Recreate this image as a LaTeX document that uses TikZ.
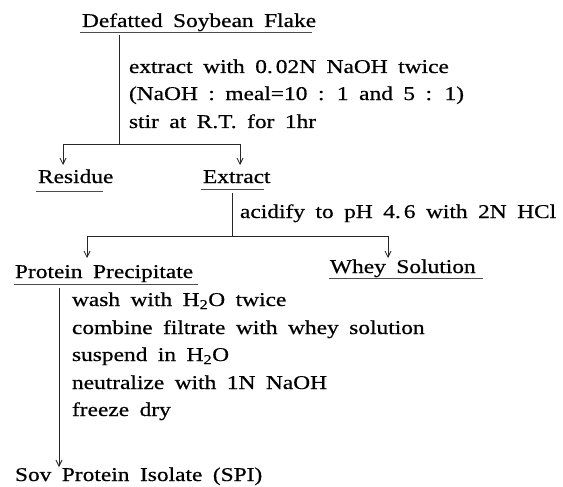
\documentclass[tikz,border=0pt]{standalone}
\usepackage{fontspec}
\newfontfamily\reffont[FakeStretch=1.2,FakeBold=0.6]{Liberation Serif}
\usetikzlibrary{arrows.meta}
\begin{document}
\begin{tikzpicture}[x=1pt,y=-1pt,
  lbl/.style={anchor=base west,inner sep=0pt,outer sep=0pt,
    font={\reffont\fontsize{19.5}{22}\selectfont\spaceskip=10.5pt\relax}},
  ln/.style={line width=0.8pt,black!85},
  ul/.style={line width=0.6pt,black!70},
  arr/.style={ln,-{Straight Barb[length=6pt,width=6pt,line width=0.8pt]}}]
\useasboundingbox (0,0) rectangle (563,487);
% labels
\node[lbl] (title) at (82,27) {Defatted Soybean Flake};
\node[lbl] (s1) at (129,73) {extract with 0.\kern3pt 02N NaOH twice};
\node[lbl] (s2) at (129,100) {(NaOH : meal=10 : 1 and 5 : 1)};
\node[lbl] (s3) at (129,128) {stir at R.T. for 1hr};
\node[lbl] (res) at (38,183) {Residue};
\node[lbl] (ext) at (203,183) {Extract};
\node[lbl] (acid) at (240,218) {acidify to pH 4.\kern3pt 6 with 2N HCl};
\node[lbl] (ppt) at (15,278) {Protein Precipitate};
\node[lbl] (whey) at (330,273) {Whey Solution};
\node[lbl] (t1) at (72,306) {wash with H\textsubscript{2}O twice};
\node[lbl] (t2) at (72,334) {combine filtrate with whey solution};
\node[lbl] (t3) at (72,361) {suspend in H\textsubscript{2}O};
\node[lbl] (t4) at (72,389) {neutralize with 1N NaOH};
\node[lbl] (t5) at (72,416) {freeze dry};
\node[lbl] (spi) at (15,481) {Sov Protein Isolate (SPI)};
% underlines
\draw[ul] (80,32) -- (312,32);
\draw[ul] (36,191) -- (103,191);
\draw[ul] (201,189) -- (264,189);
\draw[ul] (14,284) -- (198,284);
\draw[ul] (329,278) -- (483,278);
% junction coordinates
\coordinate (a0) at (119,35);
\coordinate (a1) at (119,144);
\coordinate (h1l) at (63,144);
\coordinate (h1r) at (240,144);
\coordinate (b0) at (232,193);
\coordinate (b1) at (232,236);
\coordinate (h2l) at (87,236);
\coordinate (h2r) at (388,236);
\coordinate (c0) at (59,288);
% connectors
\draw[ln] (a0) -- (a1);
\draw[ln] (h1l) -- (h1r);
\draw[arr] (h1l) -- (h1l |- 0,165);
\draw[arr] (h1r) -- (h1r |- 0,165);
\draw[ln] (b0) -- (b1);
\draw[ln] (h2l) -- (h2r);
\draw[arr] (h2l) -- (h2l |- 0,258);
\draw[arr] (h2r) -- (h2r |- 0,258);
\draw[arr] (c0) -- (c0 |- 0,467);
\end{tikzpicture}
\end{document}
